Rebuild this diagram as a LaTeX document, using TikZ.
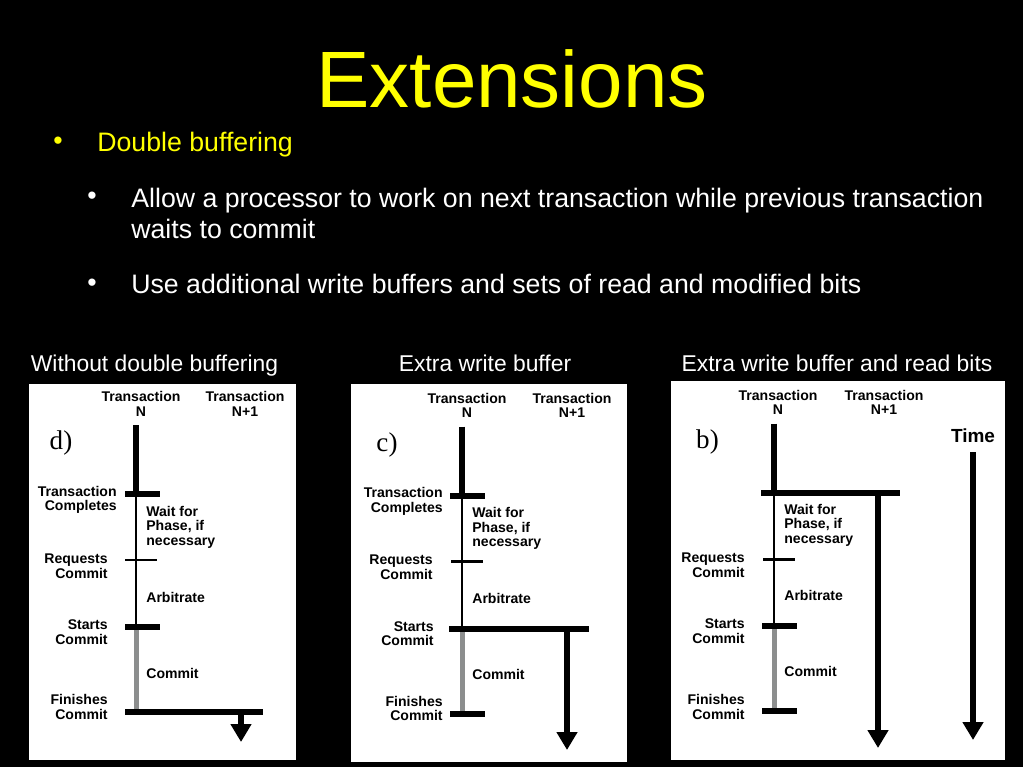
\documentclass[tikz,border=0pt]{standalone}
\usepackage{fontspec}
\setmainfont{Liberation Sans}
\newfontfamily\tagfont{Liberation Serif}
\usetikzlibrary{arrows.meta}
\definecolor{slideyellow}{RGB}{255,255,0}
\definecolor{commitgray}{RGB}{140,142,142}

\begin{document}
\begin{tikzpicture}[x=0.02cm,y=-0.02cm,
    thickbar/.style={line width=0.12cm,black},
    thinbar/.style={line width=0.05cm,black},
    commitbar/.style={line width=0.1cm,commitgray},
    downarrow/.style={line width=0.12cm,black,-{Triangle[width=0.4cm,length=0.36cm]}},
    head/.style={inner sep=0pt,align=center,font=\fontsize{8}{8.2}\selectfont\bfseries},
    lbl/.style={inner sep=0pt,font=\fontsize{8}{8.3}\selectfont\bfseries},
    lbll/.style={lbl,anchor=east,align=right},
    lblr/.style={lbl,anchor=west,align=left},
    tag/.style={inner sep=0pt,font=\tagfont\fontsize{15.4}{16}\selectfont},
    caption/.style={inner sep=0pt,anchor=base,text=white,font=\fontsize{13}{15}\selectfont},
    item/.style={inner sep=0pt,anchor=base west,text=white,font=\fontsize{15.2}{18}\selectfont},
    bul/.style={inner sep=0pt,anchor=base,text=white,font=\fontsize{15.2}{18}\selectfont}]
    \useasboundingbox (0,0) rectangle (1023,767);
    \fill[black] (0,0) rectangle (1023,767);

    % title and bullets
    \node[inner sep=0pt,anchor=base,text=slideyellow,font=\fontsize{45.5}{50}\selectfont]
        (title) at (512,108) {Extensions};
    \node[bul,text=slideyellow] (b0) at (58,149) {•};
    \node[item,text=slideyellow] (t0) at (97,151) {Double buffering};
    \node[bul] (b1) at (92,204) {•};
    \node[item] (t1) at (131,207) {Allow a processor to work on next transaction while previous transaction};
    \node[item] (t2) at (131,238) {waits to commit};
    \node[bul] (b2) at (92,291) {•};
    \node[item] (t3) at (131,293) {Use additional write buffers and sets of read and modified bits};

    % captions
    \node[caption] (cap-d) at (154.5,371) {Without double buffering};
    \node[caption] (cap-c) at (485,371) {Extra write buffer};
    \node[caption] (cap-b) at (837,371) {Extra write buffer and read bits};

    % panel backgrounds
    \fill[white] (29,384) rectangle (296,760);
    \fill[white] (351,384) rectangle (627,762);
    \fill[white] (671,381) rectangle (1005,760);

    %%%%%%%%%%%%%%%%%%%%%%%%%%%%
    % d) without double buffering
    %%%%%%%%%%%%%%%%%%%%%%%%%%%%
    \begin{scope}[shift={(136,0)}]
    \node[head] (d-n) at (5,404) {Transaction\\N};
    \node[head] (d-n1) at (109,404) {Transaction\\N+1};
    \node[tag] (d-tag) at (-75,443) {d)};

    \coordinate (d-top) at (0,425);
    \coordinate (d-done) at (0,494);
    \coordinate (d-req) at (0,560);
    \coordinate (d-start) at (0,627);
    \coordinate (d-fin) at (0,712);
    \coordinate (d-out) at (105,712);
    \coordinate (d-end) at (105,742);

    % timeline of N
    \draw[thickbar] (d-top) -- (d-done);
    \draw[thinbar] (d-done) -- (d-start);
    \draw[commitbar] (d-start) -- (d-fin);
    \draw[thickbar] (d-done) ++(-11,0) -- ++(35,0);
    \draw[thinbar] (d-req) ++(-11,0) -- ++(32,0);
    \draw[thickbar] (d-start) ++(-11,0) -- ++(35,0);
    \draw[thickbar] (d-fin) ++(-11,0) -- ++(138,0);

    % N+1 starts after commit
    \draw[downarrow] (d-out) -- (d-end);

    \node[lbll] (d-l1) at (-19,500) {Transaction\\Completes};
    \node[lbll] (d-l2) at (-28,566) {Requests\\Commit};
    \node[lbll] (d-l3) at (-28,632) {Starts\\Commit};
    \node[lbll] (d-l4) at (-28,707) {Finishes\\Commit};
    \node[lblr] (d-r1) at (10,527) {Wait for\\Phase, if\\necessary};
    \node[lblr] (d-r2) at (10,597) {Arbitrate};
    \node[lblr] (d-r3) at (10,673) {Commit};
    \end{scope}

    %%%%%%%%%%%%%%%%%%%%%%%%%%%%
    % c) extra write buffer
    %%%%%%%%%%%%%%%%%%%%%%%%%%%%
    \begin{scope}[shift={(462,1.5)}]
    \node[head] (c-n) at (5,404) {Transaction\\N};
    \node[head] (c-n1) at (110,404) {Transaction\\N+1};
    \node[tag] (c-tag) at (-75,443.5) {c)};

    \coordinate (c-top) at (0,425);
    \coordinate (c-done) at (0,494);
    \coordinate (c-req) at (0,560);
    \coordinate (c-start) at (0,627);
    \coordinate (c-fin) at (0,712);
    \coordinate (c-out) at (105,627);
    \coordinate (c-end) at (105,748.5);

    % timeline of N
    \draw[thickbar] (c-top) -- (c-done);
    \draw[thinbar] (c-done) -- (c-start);
    \draw[commitbar] (c-start) -- (c-fin);
    \draw[thickbar] (c-done) ++(-12,0) -- ++(35,0);
    \draw[thinbar] (c-req) ++(-11,0) -- ++(32,0);
    \draw[thickbar] (c-start) ++(-13,0) -- ++(140,0);
    \draw[thickbar] (c-fin) ++(-12,0) -- ++(35,0);

    % N+1 starts with commit
    \draw[downarrow] (c-out) -- (c-end);

    \node[lbll] (c-l1) at (-19,500) {Transaction\\Completes};
    \node[lbll] (c-l2) at (-29,566) {Requests\\Commit};
    \node[lbll] (c-l3) at (-28,632) {Starts\\Commit};
    \node[lbll] (c-l4) at (-19,707) {Finishes\\Commit};
    \node[lblr] (c-r1) at (10,527) {Wait for\\Phase, if\\necessary};
    \node[lblr] (c-r2) at (10,597) {Arbitrate};
    \node[lblr] (c-r3) at (10,673) {Commit};
    \end{scope}

    %%%%%%%%%%%%%%%%%%%%%%%%%%%%
    % b) extra write buffer and read bits
    %%%%%%%%%%%%%%%%%%%%%%%%%%%%
    \begin{scope}[shift={(774,-1.5)}]
    \node[head] (b-n) at (4,404) {Transaction\\N};
    \node[head] (b-n1) at (110,404) {Transaction\\N+1};
    \node[tag] (b-tag) at (-66.5,443) {b)};
    \node[inner sep=0pt,font=\fontsize{10.8}{12}\selectfont\bfseries] (b-time) at (199,437.5) {Time};

    \coordinate (b-top) at (0,425);
    \coordinate (b-done) at (0,494);
    \coordinate (b-req) at (0,561);
    \coordinate (b-start) at (0,627);
    \coordinate (b-fin) at (0,712);
    \coordinate (b-out) at (104,494);
    \coordinate (b-end) at (104,749.5);
    \coordinate (b-t0) at (199,453.5);
    \coordinate (b-t1) at (199,741.5);

    % timeline of N
    \draw[thickbar] (b-top) -- (b-done);
    \draw[thinbar] (b-done) -- (b-start);
    \draw[commitbar] (b-start) -- (b-fin);
    \draw[thickbar] (b-done) ++(-13,0) -- ++(139,0);
    \draw[thinbar] (b-req) ++(-11,0) -- ++(32,0);
    \draw[thickbar] (b-start) ++(-12,0) -- ++(35,0);
    \draw[thickbar] (b-fin) ++(-12,0) -- ++(35,0);

    % N+1 starts at once, time axis
    \draw[downarrow] (b-out) -- (b-end);
    \draw[downarrow] (b-t0) -- (b-t1);

    \node[lbll] (b-l2) at (-29,566.5) {Requests\\Commit};
    \node[lbll] (b-l3) at (-29,632.5) {Starts\\Commit};
    \node[lbll] (b-l4) at (-29,708.5) {Finishes\\Commit};
    \node[lblr] (b-r1) at (10,526.5) {Wait for\\Phase, if\\necessary};
    \node[lblr] (b-r2) at (10,597) {Arbitrate};
    \node[lblr] (b-r3) at (10,673) {Commit};
    \end{scope}

\end{tikzpicture}
\end{document}
